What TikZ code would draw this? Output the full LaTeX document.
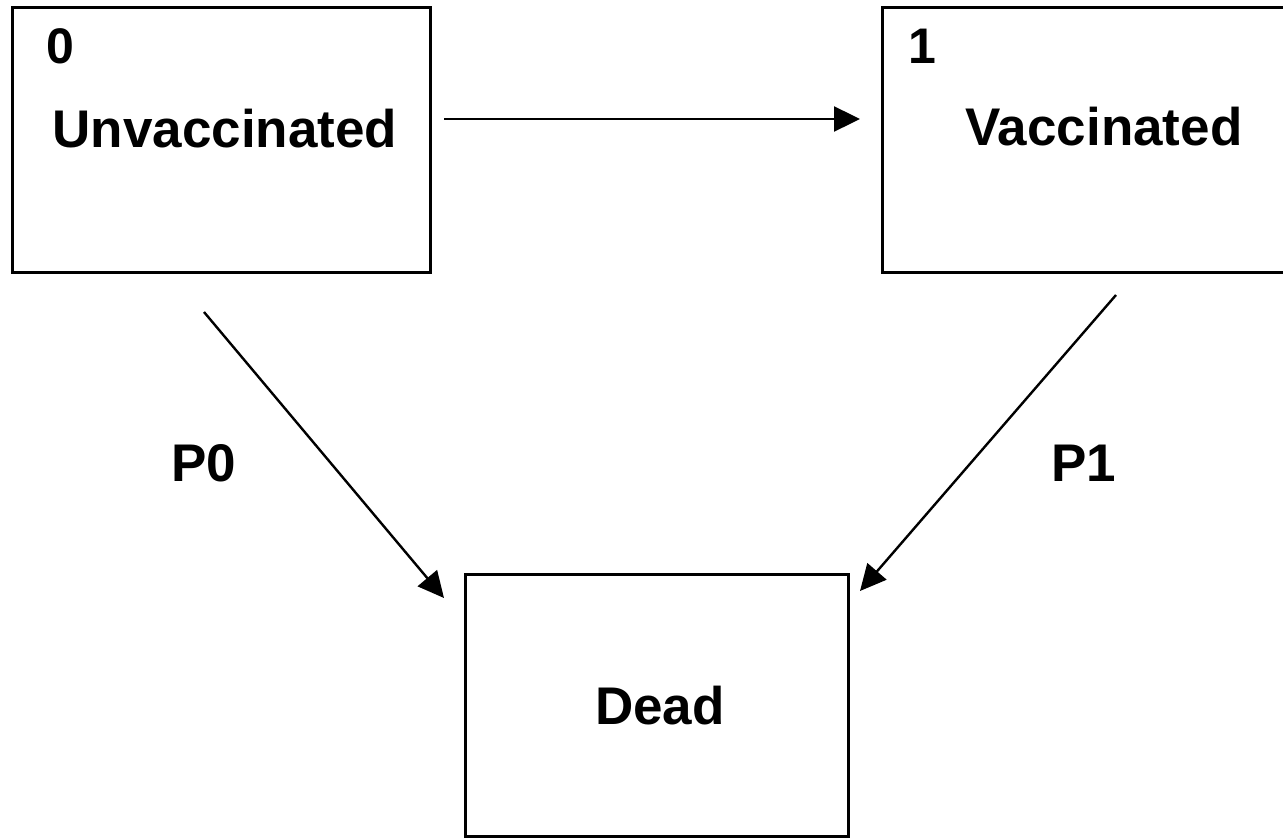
\documentclass[tikz,border=0pt]{standalone}
\usepackage{fontspec}
\setmainfont{Liberation Sans}
\usetikzlibrary{arrows.meta}
\tikzset{
  box/.style={draw=black, line width=3pt, fill=none, inner sep=0pt},
  lbl/.style={font=\fontsize{53}{62}\selectfont\bfseries, inner sep=0pt, anchor=base},
  num/.style={font=\fontsize{50}{60}\selectfont\bfseries, inner sep=0pt, anchor=base},
  conn/.style={draw=black, line width=2.4pt, -{Triangle[length=26pt,width=25pt]}, shorten >=0pt}
}
\begin{document}
\begin{tikzpicture}[x=1pt,y=-1pt]
\useasboundingbox (0,0) rectangle (1283,838);
\fill[white] (0,0) rectangle (1283,838);
% boxes
\node[box, minimum width=418pt, minimum height=265pt] (unv) at (221,139.5) {};
\node[box, minimum width=420pt, minimum height=265pt] (vac) at (1092,139.5) {};
\node[box, minimum width=383pt, minimum height=262pt] (dead) at (656.5,705) {};
% texts
\node[num] (n0) at (60,63) {0};
\node[num] (n1) at (922,63) {1};
\node[lbl] (tunv) at (225,147) {Unvaccinated};
\node[lbl] (tvac) at (1104,145) {Vaccinated};
\node[lbl] (tdead) at (660,724) {Dead};
\node[lbl] (p0) at (204,481) {P0};
\node[lbl] (p1) at (1084,481) {P1};
% connector ends
\coordinate (hs) at (444,119);
\coordinate (he) at (860,119);
\coordinate (as) at (204,312);
\coordinate (ae) at (444,598);
\coordinate (bs) at (1116,295);
\coordinate (be) at (860,591);
\draw[conn] (hs) -- (he);
\draw[conn] (as) -- (ae);
\draw[conn] (bs) -- (be);
\end{tikzpicture}
\end{document}
